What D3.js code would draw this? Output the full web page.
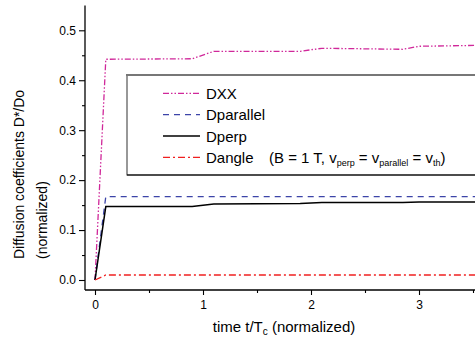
<!DOCTYPE html>
<html>
<head>
<meta charset="utf-8">
<script src="https://cdn.jsdelivr.net/npm/d3@7"></script>
<style>
body { margin: 0; background: #fff; }
svg { display: block; font-family: "Liberation Sans", Arial, sans-serif; }
</style>
</head>
<body>
<script>
// time points (t/Tc) and the four curves
var tVals      = [0, 0.1, 0.9, 1.1, 1.9, 2.1, 2.85, 3.0, 3.6];
var dxx        = [0, 0.442, 0.443, 0.458, 0.458, 0.464, 0.462, 0.468, 0.47];
var dparallel  = [0, 0.167, 0.167, 0.167, 0.167, 0.167, 0.167, 0.167, 0.167];
var dperp      = [0, 0.147, 0.147, 0.152, 0.153, 0.155, 0.155, 0.156, 0.156];
var dangle     = [0, 0.01, 0.01, 0.01, 0.01, 0.01, 0.01, 0.01, 0.01];

var seriesNames = ["DXX", "Dparallel", "Dperp", "Dangle"];
var xMajor = [0, 1, 2, 3];
var xMinor = [0.5, 1.5, 2.5, 3.5];
var yMajor = [0.0, 0.1, 0.2, 0.3, 0.4, 0.5];
var yMinor = [0.05, 0.15, 0.25, 0.35, 0.45];

var styles = [
	{color: "#d0289a", dash: "6,2,1.5,2,1.5,2"},
	{color: "#3c44a8", dash: "6,5"},
	{color: "#000000", dash: null},
	{color: "#f02020", dash: "7,3,2,3"}
];

var FONT = "'Liberation Sans', Arial, sans-serif";
var W = 475, H = 342;
var svg = d3.select("body").append("svg").attr("width", W).attr("height", H);

var x = d3.scaleLinear().domain([0, 3]).range([95, 419]);
var y = d3.scaleLinear().domain([0, 0.5]).range([280, 30.3]);

var axisX = 85, axisY = 290;

// axes lines
svg.append("line").attr("x1", axisX).attr("x2", axisX).attr("y1", 5.5).attr("y2", axisY)
	.attr("stroke", "#000").attr("stroke-width", 1.3);
svg.append("line").attr("x1", axisX).attr("x2", W).attr("y1", axisY).attr("y2", axisY)
	.attr("stroke", "#000").attr("stroke-width", 1.3);

// x ticks
var xAx = svg.append("g").attr("transform", "translate(0," + axisY + ")");
xAx.call(d3.axisBottom(x).tickValues(xMajor).tickSize(5).tickFormat(d3.format("d")));
xAx.append("g").call(d3.axisBottom(x).tickValues(xMinor).tickSize(3).tickFormat(""));
xAx.selectAll(".domain").remove();
xAx.selectAll("text").attr("font-size", 12).attr("font-family", FONT).attr("fill", "#000").attr("dy", "0.95em");

// y ticks
var yAx = svg.append("g").attr("transform", "translate(" + axisX + ",0)");
yAx.call(d3.axisLeft(y).tickValues(yMajor).tickSize(6).tickFormat(d3.format(".1f")));
yAx.append("g").call(d3.axisLeft(y).tickValues(yMinor).tickSize(3).tickFormat(""));
yAx.selectAll(".domain").remove();
yAx.selectAll("text").attr("font-size", 12).attr("font-family", FONT).attr("fill", "#000").attr("x", -9);
svg.selectAll(".tick line").attr("stroke", "#000").attr("stroke-width", 1.1);

// curves
var allData = [dxx, dparallel, dperp, dangle];
var line = d3.line().x(function(d){ return x(d[0]); }).y(function(d){ return y(d[1]); });
allData.forEach(function(vals, i){
	var pts = tVals.map(function(t, k){ return [t, vals[k]]; });
	svg.append("path").attr("d", line(pts)).attr("fill", "none")
		.attr("stroke", styles[i].color).attr("stroke-width", i == 2 ? 1.5 : 1.3)
		.attr("stroke-dasharray", styles[i].dash);
});

// legend box
var lg = svg.append("g");
lg.append("rect").attr("x", 127).attr("y", 75).attr("width", 360).attr("height", 100)
	.attr("fill", "#fff").attr("stroke", "#333").attr("stroke-width", 1);
lg.append("line").attr("x1", 126).attr("x2", W).attr("y1", 75).attr("y2", 75)
	.attr("stroke", "#777").attr("stroke-width", 2);
lg.append("line").attr("x1", 127).attr("x2", W).attr("y1", 175).attr("y2", 175)
	.attr("stroke", "#000").attr("stroke-width", 1.2);

var rowY = [93.3, 114.6, 136, 157.3];
seriesNames.forEach(function(name, i){
	lg.append("line").attr("x1", 163).attr("x2", 200).attr("y1", rowY[i]).attr("y2", rowY[i])
		.attr("stroke", styles[i].color).attr("stroke-width", 1.3)
		.attr("stroke-dasharray", styles[i].dash);
	lg.append("text").attr("x", 206).attr("y", rowY[i] + 5.5).attr("font-size", 15)
		.text(name);
});

// note on Dangle row
var note = lg.append("text").attr("x", 269).attr("y", rowY[3] + 5.5).attr("font-size", 15);
note.append("tspan").text("(B = 1 T, v");
note.append("tspan").attr("font-size", 9).attr("dy", 3).text("perp");
note.append("tspan").attr("dy", -3).text(" = v");
note.append("tspan").attr("font-size", 9).attr("dy", 3).text("parallel");
note.append("tspan").attr("dy", -3).text(" = v");
note.append("tspan").attr("font-size", 9).attr("dy", 3).text("th");
note.append("tspan").attr("dy", -3).text(")");

// axis titles
var xt = svg.append("text").attr("x", 284).attr("y", 332).attr("text-anchor", "middle").attr("font-size", 15);
xt.append("tspan").text("time t/T");
xt.append("tspan").attr("font-size", 10).attr("dy", 3).text("c");
xt.append("tspan").attr("dy", -3).text(" (normalized)");

svg.append("text").attr("transform", "translate(24,259) rotate(-90)").attr("font-size", 14)
	.text("Diffusion coefficients D*/Do");
svg.append("text").attr("transform", "translate(47,259) rotate(-90)").attr("font-size", 14)
	.text("(normalized)");
</script>
</body>
</html>
